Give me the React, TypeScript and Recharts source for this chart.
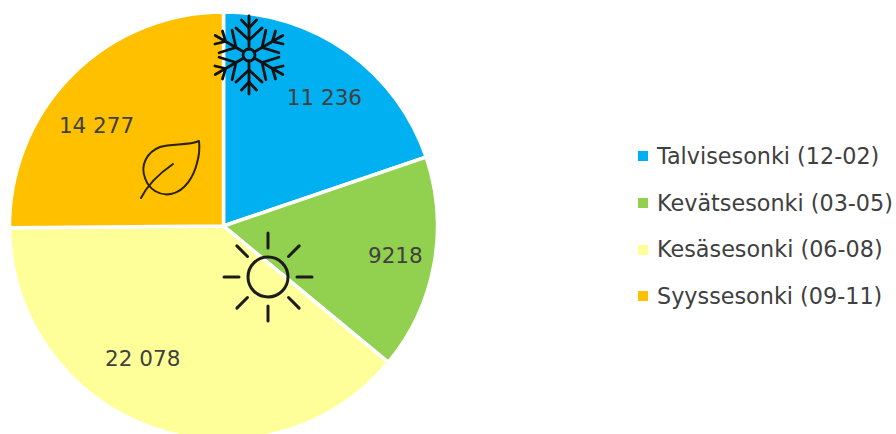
import React from "react";
import { PieChart, Pie, Legend } from "recharts";

const seasons = ["Talvisesonki (12-02)", "Kevätsesonki (03-05)", "Kesäsesonki (06-08)", "Syyssesonki (09-11)"];
const counts = [11236, 9218, 22078, 14277];
const colours = ["#00B0F0", "#92D050", "#FFFF99", "#FFC000"];
const labelNudgeX = [7.5, 14, -27, -13];
const labelNudgeY = [2, 0, -19, 12.5];

const rows = seasons.map((name, i) => ({ name, value: counts[i], fill: colours[i] }));

const FONT = '"DejaVu Sans", sans-serif';
const INK = "#404040";
const RAD = Math.PI / 180;

// Finnish grouping: a thin gap only from five digits upward
const formatCount = (v: number) =>
  v >= 10000 ? `${Math.floor(v / 1000)} ${String(v % 1000).padStart(3, "0")}` : String(v);

function SliceLabel(props: any) {
  const { cx, cy, midAngle, outerRadius, index, value } = props;
  const r = outerRadius * 0.75;
  const x = cx + r * Math.cos(-midAngle * RAD) + labelNudgeX[index];
  const y = cy + r * Math.sin(-midAngle * RAD) + labelNudgeY[index];
  return (
    <text x={x} y={y} textAnchor="middle" dominantBaseline="central" fontFamily={FONT} fontSize={21.5} fill={INK}>
      {formatCount(value)}
    </text>
  );
}

function LegendList(props: any) {
  return (
    <div style={{ fontFamily: FONT, fontSize: 22.3, color: INK, lineHeight: "46.7px", whiteSpace: "nowrap" }}>
      {(props.payload ?? []).map((item: any) => (
        <div key={item.value} style={{ display: "flex", alignItems: "center", height: 46.7 }}>
          <span style={{ width: 10, height: 10, background: item.color, marginRight: 9 }} />
          {item.value}
        </div>
      ))}
    </div>
  );
}

function Snowflake({ x, y }: { x: number; y: number }) {
  return (
    <g transform={`translate(${x} ${y})`} fill="none" stroke="#111" strokeWidth={2.8} strokeLinecap="round">
      <circle r={6} />
      {[0, 60, 120, 180, 240, 300].map((a) => (
        <g key={a} transform={`rotate(${a})`}>
          <path d="M0 -6V-39" />
          <path d="M0 -15L-13 -27M0 -15L13 -27" />
          <path d="M0 -27L-7.5 -35M0 -27L7.5 -35" />
        </g>
      ))}
    </g>
  );
}

function Sun({ x, y }: { x: number; y: number }) {
  return (
    <g transform={`translate(${x} ${y})`} fill="none" stroke="#1c1c1c" strokeWidth={3} strokeLinecap="round">
      <circle r={20} />
      {[0, 45, 90, 135, 180, 225, 270, 315].map((a) => (
        <path key={a} d="M0 -29V-44" transform={`rotate(${a})`} />
      ))}
    </g>
  );
}

function Leaf() {
  return (
    <g fill="none" stroke="#2a2200" strokeWidth={2} strokeLinecap="round" strokeLinejoin="round">
      <path d="M199 141C188 146 172 143 160 147C147 152 140 165 145 178C149 190 160 196 171 194C186 191 194 175 197 163C199 156 200 149 199 141Z" />
      <path d="M173 164C160 173 148 184 141 198" />
    </g>
  );
}

export default function App() {
  return (
    <div style={{ position: "absolute", left: 0, top: 0, width: 896, height: 434, overflow: "hidden" }}>
      <PieChart width={896} height={434} margin={{ top: 0, right: 0, bottom: 0, left: 0 }}>
        <Pie
          data={rows}
          dataKey="value"
          nameKey="name"
          cx={223.5}
          cy={226}
          outerRadius={214}
          startAngle={90}
          endAngle={-270}
          stroke="#ffffff"
          strokeWidth={3.5}
          label={SliceLabel}
          labelLine={false}
          isAnimationActive={false}
        />
        <Legend
          layout="vertical"
          itemSorter={null}
          content={<LegendList />}
          wrapperStyle={{ position: "absolute", left: 638, top: 133, width: 258 }}
        />
      </PieChart>
      {/* Season symbols sit above the slices in their own layer */}
      <svg width={896} height={434} style={{ position: "absolute", left: 0, top: 0, pointerEvents: "none" }}>
        <Snowflake x={249} y={55} />
        <Sun x={268} y={277} />
        <Leaf />
      </svg>
    </div>
  );
}
